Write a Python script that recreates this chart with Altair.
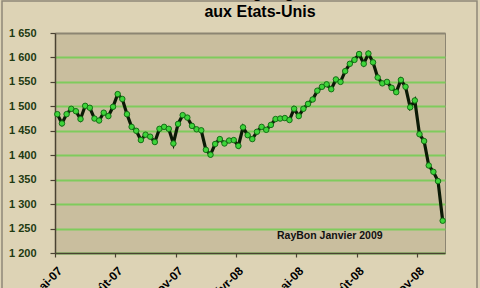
import altair as alt
import pandas as pd

# Weekly values (gas rig count in the US)
values = [1484, 1465, 1484, 1495, 1490, 1474, 1501, 1497, 1475, 1471,
          1487, 1480, 1499, 1525, 1515, 1484, 1458, 1450, 1431, 1442,
          1438, 1427, 1454, 1458, 1454, 1424, 1464, 1482, 1477, 1460,
          1453, 1451, 1411, 1401, 1423, 1433, 1424, 1430, 1431, 1419,
          1457, 1441, 1433, 1448, 1458, 1452, 1462, 1474, 1475, 1476,
          1472, 1495, 1480, 1495, 1505, 1514, 1532, 1540, 1545, 1535,
          1555, 1550, 1572, 1587, 1595, 1607, 1587, 1608, 1590, 1559,
          1547, 1550, 1538, 1529, 1554, 1540, 1498, 1512, 1443, 1429,
          1379, 1366, 1347, 1266]
weeks = list(range(len(values)))
tick_labels = ["mai-07", "août-07", "nov-07", "févr-08", "mai-08", "août-08", "nov-08"]
tick_weeks = [-0.5, 12.5, 25.5, 38.5, 51.5, 64.5, 77.5]
y_ticks = [1200, 1250, 1300, 1350, 1400, 1450, 1500, 1550, 1600, 1650]

df = pd.DataFrame({"semaine": weeks, "valeur": values})

label_arr = "[" + ",".join("'%s'" % s for s in tick_labels) + "]"

x = alt.X("semaine:Q",
          scale=alt.Scale(domain=[-0.5, len(values) - 0.5], nice=False, zero=False),
          axis=alt.Axis(values=tick_weeks, title=None, grid=False,
                        labelExpr=label_arr + "[round((datum.value + 0.5) / 13)]",
                        labelAngle=-45, labelAlign="right", labelBaseline="top",
                        labelFont="Liberation Sans", labelFontWeight="bold",
                        labelFontSize=12, labelColor="#000000", labelPadding=8,
                        labelOffset=1, labelOverlap=False, labelFlush=False,
                        domainColor="#4A4232", domainWidth=1.5,
                        tickColor="#4A4232", tickSize=4, tickWidth=1.2))
y = alt.Y("valeur:Q",
          scale=alt.Scale(domain=[1200, 1650], nice=False, zero=False),
          axis=alt.Axis(values=y_ticks, title=None, labelOverlap=False, tickCount=10,
                        labelExpr="replace(format(datum.value, ','), ',', ' ')",
                        labelFont="Liberation Sans", labelFontWeight="bold",
                        labelFontSize=11, labelColor="#1E3A12", labelPadding=14,
                        gridColor={"condition": {"test": "datum.value >= 1650", "value": "#8C8572"},
                                   "value": "#7FCB5C"},
                        gridWidth=2, gridOpacity=1,
                        domainColor="#4A4232", domainWidth=1.5,
                        tickColor="#4A4232", tickSize=5, tickWidth=1.2))

line = alt.Chart(df).mark_line(color="#0B1A06", strokeWidth=3.2).encode(x=x, y=y)
pts = alt.Chart(df).mark_point(filled=True, fill="#3ED43A", stroke="#147014",
                               strokeWidth=1, size=30, opacity=1).encode(x=x, y=y)

credit = alt.Chart(pd.DataFrame({"t": ["RayBon Janvier 2009"]})).mark_text(
    align="left", baseline="middle", font="Liberation Sans", fontWeight="bold",
    fontSize=10.5, color="#111111"
).encode(x=alt.value(222), y=alt.value(203), text="t:N")

frame = alt.Chart(pd.DataFrame({"a": [0]})).mark_rect(
    fill=None, stroke="#8E8878", strokeWidth=1.5
).encode(x=alt.value(-53), x2=alt.value(422), y=alt.value(-32), y2=alt.value(300))

chart = alt.layer(line, pts, credit, frame).properties(
    width=390, height=220,
    autosize=alt.AutoSizeParams(type="none"),
    padding={"left": 55, "top": 33, "right": 35, "bottom": 35},
    background="#DDD3B5",
    title=alt.TitleParams(
        text=["Nombre de forages gaziers actifs", "aux Etats-Unis"],
        font="Liberation Sans", fontSize=16, fontWeight="bold", color="#000000",
        anchor="middle", dx=10, dy=20, offset=0, lineHeight=19),
).configure_view(fill="#C9BE9E", stroke="#8C8572", strokeWidth=1)

chart.save("out.html", embed_options={"renderer": "svg", "actions": False})
